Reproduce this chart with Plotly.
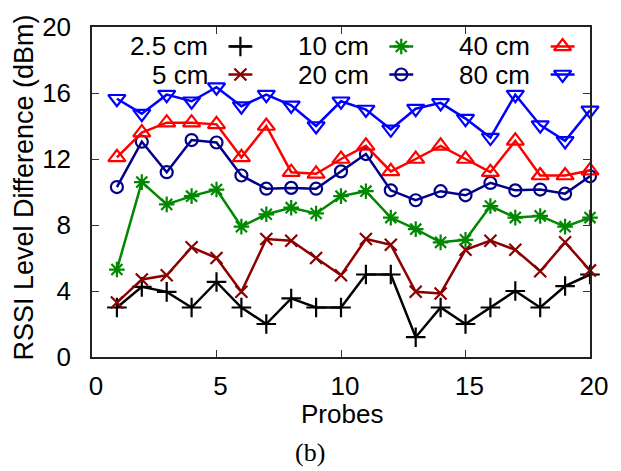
import plotly.graph_objects as go

probes = list(range(1, 21))
labels = ["2.5 cm", "5 cm", "10 cm", "20 cm", "40 cm", "80 cm"]
s_2_5 = [3.0, 4.25, 3.95, 3.0, 4.55, 3.0, 2.0, 3.55, 3.0, 3.0, 5.0, 5.0, 1.2, 3.0, 2.0, 3.0, 4.0, 3.0, 4.3, 5.0]
s_5 = [3.3, 4.7, 4.95, 6.65, 6.0, 3.95, 7.15, 7.05, 6.0, 4.95, 7.15, 6.8, 3.95, 3.85, 6.5, 7.05, 6.5, 5.2, 6.95, 5.25]
s_10 = [5.3, 10.6, 9.25, 9.75, 10.15, 7.9, 8.65, 9.05, 8.7, 9.75, 10.05, 8.45, 7.75, 6.95, 7.1, 9.15, 8.45, 8.55, 7.9, 8.45]
s_20 = [10.3, 13.05, 11.2, 13.15, 13.0, 11.0, 10.2, 10.25, 10.2, 11.25, 12.3, 10.1, 9.5, 10.05, 9.8, 10.55, 10.1, 10.15, 9.9, 10.95]
s_40 = [12.1, 13.6, 14.2, 14.2, 14.1, 12.1, 14.0, 11.2, 11.1, 12.0, 12.8, 11.25, 12.0, 12.8, 12.0, 11.2, 13.1, 11.0, 11.0, 11.3]
s_80 = [15.65, 14.75, 15.9, 15.5, 16.35, 15.2, 15.9, 15.25, 14.0, 15.5, 15.0, 13.8, 15.05, 15.4, 14.45, 13.3, 15.9, 14.05, 13.1, 14.95]
series = [s_2_5, s_5, s_10, s_20, s_40, s_80]
x_ticks = [0, 5, 10, 15, 20]
y_ticks = [0, 4, 8, 12, 16, 20]

colors = ["#000000", "#8b0000", "#008800", "#00008b", "#ff0000", "#0000ff"]
symbols = ["cross-thin-open", "x-thin-open", "asterisk-open", "circle-open", "triangle-up-open", "triangle-down-open"]
msizes = [14, 12, 13, 12, 15, 15]

FONT = "Liberation Sans, Arial, Helvetica, sans-serif"
fig = go.Figure()

for lab, ys, c, sym, ms in zip(labels, series, colors, symbols, msizes):
    fig.add_trace(go.Scatter(
        x=probes, y=ys, mode="lines+markers", name=lab, showlegend=False,
        line=dict(color=c, width=2.5),
        marker=dict(symbol=sym, size=ms, color=c, line=dict(color=c, width=2.2)),
        cliponaxis=False,
    ))

# custom gnuplot-style legend (text right-aligned, sample on the right)
leg_cols = [0.237, 0.560, 0.884]
leg_rows = [0.941, 0.856]
sample_off = 0.061
sample_half = 0.024
order = [(0, 0), (1, 0), (2, 1), (3, 1), (4, 2), (5, 2)]
for idx, col in order:
    row = idx % 2
    xr = leg_cols[col]
    yr = leg_rows[row]
    xc = xr + sample_off
    c = colors[idx]
    fig.add_trace(go.Scatter(
        x=[xc - sample_half, xc + sample_half], y=[yr, yr], mode="lines",
        line=dict(color=c, width=2.5), xaxis="x2", yaxis="y2", showlegend=False, hoverinfo="skip"))
    fig.add_trace(go.Scatter(
        x=[xc], y=[yr], mode="markers",
        marker=dict(symbol=symbols[idx], size=msizes[idx], color=c, line=dict(color=c, width=2.2)),
        xaxis="x2", yaxis="y2", showlegend=False, hoverinfo="skip"))
    fig.add_annotation(x=xr, y=yr, xref="x2", yref="y2", text=labels[idx], showarrow=False,
                       xanchor="right", yanchor="middle", font=dict(size=26, color="black", family=FONT))

fig.update_layout(
    width=621, height=471,
    margin=dict(l=92, r=31, t=18, b=114),
    paper_bgcolor="white", plot_bgcolor="white",
    font=dict(family=FONT, size=26, color="black"),
    showlegend=False,
    xaxis=dict(range=[0, 20], tickvals=x_ticks, ticks="inside", ticklen=7, tickwidth=1.2, tickcolor="#333",
               mirror="allticks", showline=True, linecolor="#222", linewidth=1.5, showgrid=False, zeroline=False,
               ticklabelstandoff=5, ticklabelshift=4, tickfont=dict(size=26)),
    yaxis=dict(range=[0, 20], tickvals=y_ticks, ticks="inside", ticklen=7, tickwidth=1.2, tickcolor="#333",
               mirror="allticks", showline=True, linecolor="#222", linewidth=1.5, showgrid=False, zeroline=False,
               ticklabelstandoff=14, tickfont=dict(size=26)),
    xaxis2=dict(range=[0, 1], overlaying="x", visible=False, fixedrange=True),
    yaxis2=dict(range=[0, 1], overlaying="y", visible=False, fixedrange=True),
)

# position the outer texts in pixel terms converted to paper coords
pl, pr, pt, pb = 92, 590, 18, 357
def px(xpix):
    return (xpix - pl) / (pr - pl)
def py(ypix):
    return (pb - ypix) / (pb - pt)

fig.add_annotation(x=px(341.5), y=py(416), xref="paper", yref="paper", text="Probes", showarrow=False,
                   font=dict(size=26), xanchor="center", yanchor="middle")
fig.add_annotation(x=px(24), y=py(183), text="RSSI Level Difference (dBm)", xref="paper", yref="paper",
                   showarrow=False, textangle=-90, font=dict(size=27), xanchor="center", yanchor="middle")
fig.add_annotation(x=px(310), y=py(455), text="(b)", xref="paper", yref="paper", showarrow=False,
                   font=dict(size=26, family="Liberation Serif, Times New Roman, serif"),
                   xanchor="center", yanchor="middle")

fig.write_html("out.html")
